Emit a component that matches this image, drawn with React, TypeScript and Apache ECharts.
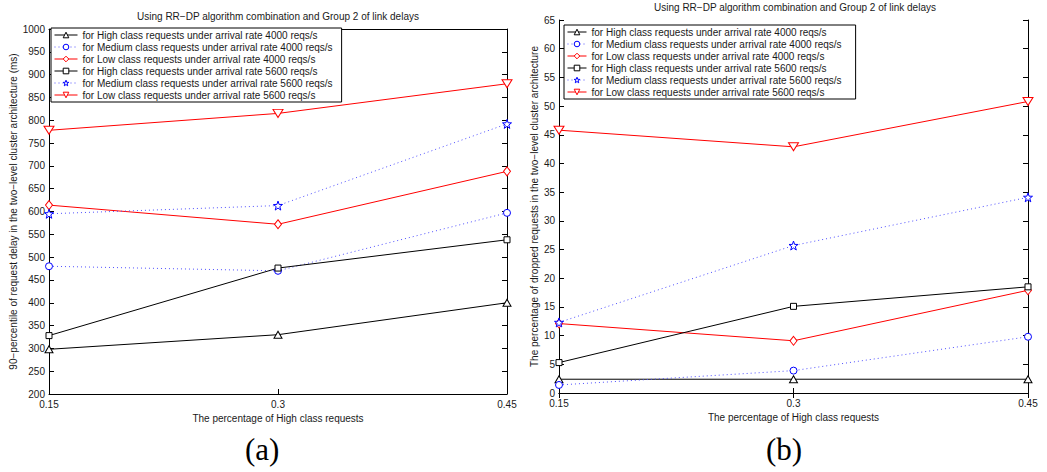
import React, { useEffect, useRef } from "react";
import * as echarts from "echarts";

const categories = ["0.15", "0.3", "0.45"];
const seriesNames = [
  "for High class requests under arrival rate 4000 reqs/s",
  "for Medium class requests under arrival rate 4000 reqs/s",
  "for Low class requests under arrival rate 4000 reqs/s",
  "for High class requests under arrival rate 5600 reqs/s",
  "for Medium class requests under arrival rate 5600 reqs/s",
  "for Low class requests under arrival rate 5600 reqs/s",
];

// (a) 90-percentile of request delay (ms)
const delayHigh4000 = [298, 330, 400];
const delayMedium4000 = [480, 470, 597];
const delayLow4000 = [614, 572, 688];
const delayHigh5600 = [328, 476, 538];
const delayMedium5600 = [595, 613, 792];
const delayLow5600 = [778, 815, 880];

// (b) percentage of dropped requests
const dropHigh4000 = [2.4, 2.4, 2.4];
const dropMedium4000 = [1.4, 3.9, 9.8];
const dropLow4000 = [12.1, 9.1, 17.9];
const dropHigh5600 = [5.3, 15.1, 18.5];
const dropMedium5600 = [12.3, 25.7, 34.1];
const dropLow5600 = [45.8, 42.9, 50.8];

const titleText = "Using RR\u2212DP algorithm combination and Group 2 of link delays";
const xName = "The percentage of High class requests";
const yNameA = "90\u2212percentile of request delay in the two\u2212level cluster architecture (ms)";
const yNameB = "The percentage of dropped requests in the two\u2212level cluster architecture";

const STAR =
  "path://M0,-10 L2.35,-3.24 L9.51,-3.09 L3.8,1.24 L5.88,8.09 L0,4 L-5.88,8.09 L-3.8,1.24 L-9.51,-3.09 L-2.35,-3.24 Z";
const TRI_UP = "path://M0,-1 L1,1 L-1,1 Z";
const TRI_DOWN = "path://M-1,-1 L1,-1 L0,1 Z";
const CIRCLE = "path://M1,0 A1,1 0 1 1 -1,0 A1,1 0 1 1 1,0 Z";
const DIAMOND = "path://M0,-1 L1,0 L0,1 L-1,0 Z";
const SQUARE = "path://M-1,-1 L1,-1 L1,1 L-1,1 Z";

const FONT = "Liberation Sans, Arial, sans-serif";
const TXT = "#1a1a1a";

const styles = [
  { symbol: TRI_UP, size: [8, 7], color: "#000", dotted: false },
  { symbol: CIRCLE, size: 7, color: "#0000ff", dotted: true },
  { symbol: DIAMOND, size: [7, 9], color: "#ff0000", dotted: false },
  { symbol: SQUARE, size: 6, color: "#000", dotted: false },
  { symbol: STAR, size: 9, color: "#0000ff", dotted: true },
  { symbol: TRI_DOWN, size: [10, 8], color: "#ff0000", dotted: false },
];

function makeSeries(data: number[][], axisIdx: number) {
  return data.map((d, i) => {
    const s = styles[i];
    return {
      type: "line",
      name: seriesNames[i],
      xAxisIndex: axisIdx,
      yAxisIndex: axisIdx,
      data: d,
      symbol: s.symbol,
      symbolSize: s.size,
      showAllSymbol: true,
      itemStyle: { color: "#fff", borderColor: s.color, borderWidth: 1 },
      lineStyle: {
        color: s.dotted ? "#5050ff" : s.color,
        width: 1,
        type: s.dotted ? [1, 3] : "solid",
      },
      emphasis: { disabled: true },
      z: 3,
    };
  });
}

const plainNumber = (v: number) => String(v);

function xAxes(gridIndex: number) {
  const common = {
    type: "category",
    gridIndex,
    data: categories,
    boundaryGap: false,
    axisLine: { lineStyle: { color: "#000", width: 1 } },
    axisTick: { inside: true, length: 5, lineStyle: { color: "#000" } },
    splitLine: { show: false },
  };
  return [
    {
      ...common,
      position: "bottom",
      axisLabel: { fontSize: 10, color: TXT, fontFamily: FONT, margin: 5 },
      name: xName,
      nameLocation: "middle",
      nameGap: 16,
      nameTextStyle: { fontSize: 10, color: TXT, fontFamily: FONT },
    },
    { ...common, position: "top", axisLabel: { show: false } },
  ];
}

function yAxes(gridIndex: number, min: number, max: number, interval: number, name: string, gap: number) {
  const common = {
    type: "value",
    gridIndex,
    min,
    max,
    interval,
    axisLine: { show: true, lineStyle: { color: "#000", width: 1 } },
    axisTick: { show: true, inside: true, length: 5, lineStyle: { color: "#000" } },
    splitLine: { show: false },
  };
  return [
    {
      ...common,
      position: "left",
      axisLabel: { fontSize: 10, color: TXT, fontFamily: FONT, margin: 4, formatter: plainNumber },
      name,
      nameLocation: "middle",
      nameGap: gap,
      nameTextStyle: { fontSize: 10, color: TXT, fontFamily: FONT },
    },
    { ...common, position: "right", axisLabel: { show: false } },
  ];
}

function legend(left: number, top: number, itemWidth: number, rightPad: number) {
  return {
    orient: "vertical",
    left,
    top,
    data: seriesNames,
    itemWidth,
    itemHeight: 7,
    itemGap: 0,
    padding: [1, rightPad, 1, 3],
    backgroundColor: "#fff",
    borderColor: "#000",
    borderWidth: 1,
    borderRadius: 0,
    selectedMode: false,
    lineStyle: { width: 1 },
    itemStyle: { borderWidth: 1 },
    textStyle: { fontSize: 10, color: TXT, fontFamily: FONT, lineHeight: 12 },
    z: 10,
  };
}

export default function App() {
  const ref = useRef<HTMLDivElement>(null);
  useEffect(() => {
    if (!ref.current) return;
    const chart = echarts.init(ref.current, undefined, { renderer: "svg" });
    const seriesA = makeSeries(
      [delayHigh4000, delayMedium4000, delayLow4000, delayHigh5600, delayMedium5600, delayLow5600],
      0
    );
    const seriesB = makeSeries(
      [dropHigh4000, dropMedium4000, dropLow4000, dropHigh5600, dropMedium5600, dropLow5600],
      2
    );
    chart.setOption({
      animation: false,
      backgroundColor: "#fff",
      title: [
        {
          text: titleText,
          left: 278,
          top: 11,
          textAlign: "center",
          padding: 0,
          textStyle: { fontSize: 10, fontWeight: "normal", color: TXT, fontFamily: FONT },
        },
        {
          text: titleText,
          left: 795,
          top: 2,
          textAlign: "center",
          padding: 0,
          textStyle: { fontSize: 10, fontWeight: "normal", color: TXT, fontFamily: FONT },
        },
      ],
      grid: [
        { left: 49, right: 540, top: 29, bottom: 78, show: false },
        { left: 559, right: 19, top: 20, bottom: 79, show: false },
      ],
      xAxis: [...xAxes(0), ...xAxes(1)],
      yAxis: [
        ...yAxes(0, 200, 1000, 50, yNameA, 24),
        ...yAxes(1, 0, 65, 5, yNameB, 11),
      ],
      legend: [legend(51, 28, 23, 9), legend(564, 25, 19, 14)],
      series: [...seriesA, ...seriesB],
      graphic: [
        {
          type: "text",
          left: 245,
          top: 434,
          style: { text: "(a)", font: '31px "Liberation Serif", serif', fill: "#000" },
        },
        {
          type: "text",
          left: 766,
          top: 434,
          style: { text: "(b)", font: '31px "Liberation Serif", serif', fill: "#000" },
        },
      ],
    });
    return () => chart.dispose();
  }, []);
  return (
    <div
      ref={ref}
      style={{ position: "fixed", left: 0, top: 0, width: 1047, height: 472, background: "#fff" }}
    />
  );
}
